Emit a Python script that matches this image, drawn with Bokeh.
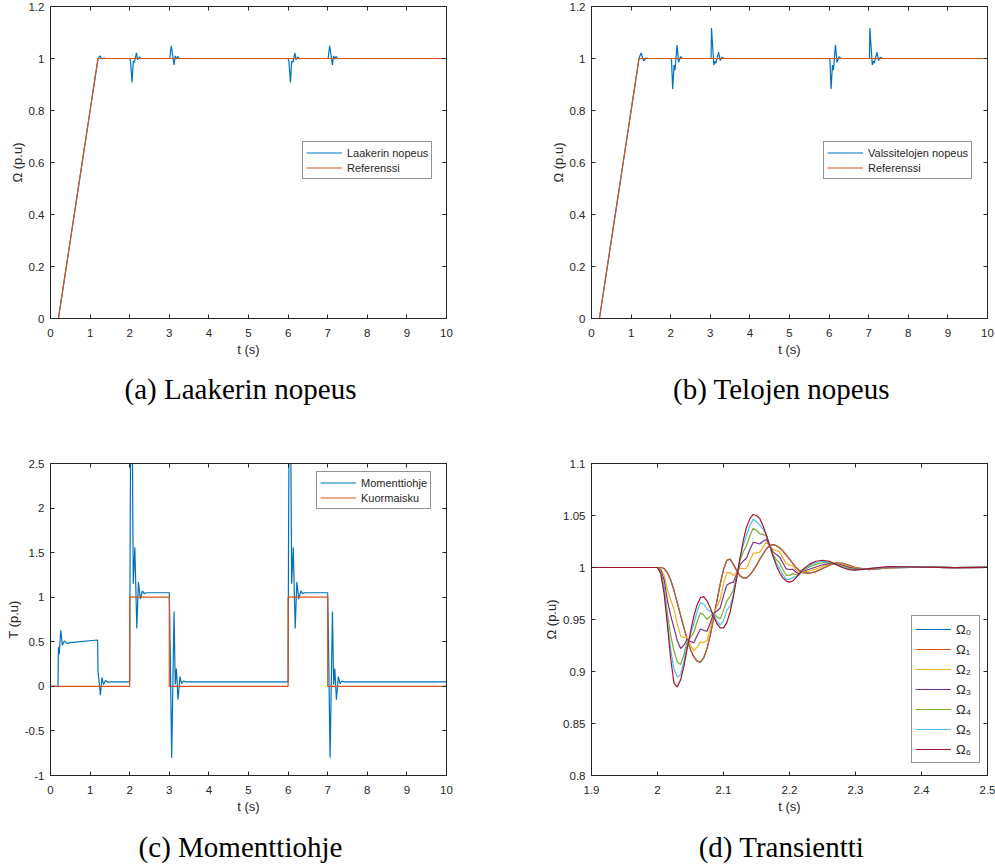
from bokeh.plotting import figure
from bokeh.models import LinearAxis, FixedTicker, Legend, LegendItem, Label, Range1d
from bokeh.layouts import column, row
from bokeh.embed import file_html
from bokeh.resources import INLINE

# ---------------- data ----------------
# (a) bearing speed
REF_T = [0, 0.2, 1.2, 10]
REF_W = [0, 0, 1.0, 1.0]

A_T = [0, 0.2, 1.2, 1.25, 1.3, 1.35, 1.4,
       2.0, 2.02, 2.06, 2.09, 2.12, 2.17, 2.2, 2.24, 2.28, 2.33,
       3.0, 3.01, 3.05, 3.12, 3.15, 3.18, 3.21, 3.25, 3.3,
       6.0, 6.02, 6.06, 6.09, 6.12, 6.17, 6.2, 6.24, 6.28, 6.33,
       7.0, 7.01, 7.05, 7.12, 7.15, 7.18, 7.21, 7.25, 7.3, 10]
A_W = [0, 0, 1.0, 1.01, 0.998, 1.002, 1.0,
       1.0, 0.99, 0.908, 0.99, 0.985, 1.022, 0.995, 1.006, 0.999, 1.0,
       1.0, 1.0, 1.049, 0.975, 1.01, 0.998, 1.008, 0.999, 1.0,
       1.0, 0.99, 0.908, 0.99, 0.985, 1.022, 0.995, 1.006, 0.999, 1.0,
       1.0, 1.0, 1.049, 0.975, 1.01, 0.998, 1.008, 0.999, 1.0, 1.0]

# (b) roll speed
B_T = [0, 0.2, 1.2, 1.25, 1.32, 1.38, 1.45,
       2.0, 2.02, 2.05, 2.085, 2.11, 2.16, 2.2, 2.25, 2.3,
       3.0, 3.02, 3.03, 3.09, 3.12, 3.14, 3.21, 3.25, 3.29, 3.35,
       6.0, 6.02, 6.05, 6.085, 6.11, 6.16, 6.2, 6.25, 6.3,
       7.0, 7.02, 7.03, 7.09, 7.12, 7.14, 7.21, 7.25, 7.29, 7.35, 10]
B_W = [0, 0, 1.0, 1.021, 0.99, 1.002, 1.0,
       1.0, 0.995, 0.883, 0.975, 0.955, 1.052, 0.985, 1.007, 1.0,
       1.0, 1.0, 1.117, 0.975, 0.99, 0.982, 1.024, 0.992, 1.005, 1.0,
       1.0, 0.995, 0.883, 0.975, 0.955, 1.052, 0.985, 1.007, 1.0,
       1.0, 1.0, 1.117, 0.975, 0.99, 0.982, 1.024, 0.992, 1.005, 1.0, 1.0]

# (c) torque command and load step
C_T = [0, 0.19, 0.2, 0.22, 0.26, 0.30, 0.35, 0.42, 0.5, 1.19, 1.2, 1.22, 1.26, 1.30, 1.34, 1.39, 1.45, 1.5,
       2.0, 2.01, 2.025, 2.065, 2.09, 2.13, 2.18, 2.22, 2.27, 2.32, 2.37, 2.42,
       3.0, 3.02, 3.06, 3.12, 3.15, 3.18, 3.22, 3.27, 3.31, 3.36, 3.42,
       6.0, 6.01, 6.025, 6.065, 6.09, 6.13, 6.18, 6.22, 6.27, 6.32, 6.37, 6.42,
       7.0, 7.02, 7.06, 7.12, 7.15, 7.18, 7.22, 7.27, 7.31, 7.36, 7.42, 10]
C_W = [0, 0, 0.44, 0.36, 0.63, 0.46, 0.51, 0.48, 0.49, 0.52, 0.16, 0.09, -0.10, 0.10, 0.02, 0.065, 0.045, 0.05,
       0.05, 1.5, 2.9, 2.9, 1.15, 1.56, 0.65, 1.17, 0.98, 1.07, 1.04, 1.05,
       1.05, 0.5, -0.80, 0.84, 0.02, 0.20, -0.15, 0.11, 0.03, 0.06, 0.05,
       0.05, 1.5, 2.9, 2.9, 1.15, 1.56, 0.65, 1.17, 0.98, 1.07, 1.04, 1.05,
       1.05, 0.5, -0.80, 0.84, 0.02, 0.20, -0.15, 0.11, 0.03, 0.06, 0.05, 0.05]
K_T = [0, 2, 2, 3, 3, 6, 6, 7, 7, 10, 10]
K_W = [0, 0, 1, 1, 0, 0, 1, 1, 0, 0, 1]

# (d) transient, Omega_0 ... Omega_6
D_T = [1.9,
       2.000, 2.005, 2.010, 2.015, 2.020, 2.025, 2.030, 2.035, 2.040, 2.045,
       2.050, 2.055, 2.060, 2.065, 2.070, 2.075, 2.080, 2.085, 2.090, 2.095,
       2.100, 2.105, 2.110, 2.115, 2.120, 2.125, 2.130, 2.135, 2.140, 2.145,
       2.150, 2.155, 2.160, 2.165, 2.170, 2.175, 2.180, 2.185, 2.190, 2.195,
       2.200, 2.205, 2.210, 2.215, 2.220,
       2.23, 2.24, 2.25, 2.26, 2.27, 2.28, 2.29, 2.30, 2.32, 2.35, 2.40, 2.45, 2.4999]
W0 = [1.0,
      1.000, 1.000, 0.999, 0.995, 0.988, 0.978, 0.966, 0.954, 0.942, 0.931,
      0.921, 0.914, 0.910, 0.909, 0.913, 0.922, 0.935, 0.951, 0.968, 0.984,
      0.998, 1.007, 1.008, 1.003, 0.997, 0.992, 0.990, 0.990, 0.993, 0.997,
      1.002, 1.008, 1.013, 1.018, 1.021, 1.022, 1.021, 1.019, 1.016, 1.012,
      1.008, 1.004, 1.000, 0.997, 0.995,
      0.9945, 0.996, 0.999, 1.002, 1.0045, 1.004, 1.002, 1.000, 0.998, 0.9995, 1.0003, 0.9998, 1.0002]
W1 = [1.0,
      1.000, 1.000, 0.999, 0.995, 0.988, 0.978, 0.966, 0.954, 0.942, 0.931,
      0.921, 0.914, 0.910, 0.909, 0.913, 0.922, 0.935, 0.951, 0.968, 0.984,
      0.998, 1.007, 1.008, 1.003, 0.997, 0.992, 0.990, 0.990, 0.993, 0.997,
      1.002, 1.008, 1.013, 1.018, 1.021, 1.022, 1.021, 1.019, 1.016, 1.012,
      1.008, 1.004, 1.000, 0.997, 0.995,
      0.9945, 0.996, 0.999, 1.002, 1.0045, 1.004, 1.002, 1.000, 0.998, 0.9995, 1.0003, 0.9998, 1.0002]
W2 = [1.0,
      1.000, 0.9985, 0.993, 0.9785, 0.969, 0.9597, 0.9457, 0.9345, 0.9327, 0.9327,
      0.9253, 0.9198, 0.9235, 0.9285, 0.9278, 0.9295, 0.9415, 0.9555, 0.9625, 0.9695,
      0.984, 0.995, 0.9952, 0.9922, 0.9952, 0.9993, 0.999, 0.9993, 1.0065, 1.0135,
      1.014, 1.0148, 1.0198, 1.0243, 1.021, 1.0172, 1.0162, 1.015, 1.0095, 1.0037,
      1.0025, 1.0017, 0.9975, 0.9942, 0.9958,
      0.9966, 0.9985, 1.001, 1.003, 1.0041, 1.003, 1.001, 0.9994, 0.9983, 0.9998, 1.0003, 0.9998, 1.0002]
W3 = [1.0,
      1.000, 0.9973, 0.9882, 0.9685, 0.9538, 0.9419, 0.9295, 0.9221, 0.9253, 0.931,
      0.9287, 0.9276, 0.9343, 0.9409, 0.9396, 0.9387, 0.9467, 0.9559, 0.9581, 0.9611,
      0.9728, 0.983, 0.985, 0.986, 0.9938, 1.0027, 1.0062, 1.0091, 1.0173, 1.0243,
      1.0236, 1.0226, 1.0252, 1.0269, 1.021, 1.015, 1.0124, 1.0102, 1.0043, 0.9987,
      0.9981, 0.9983, 0.9955, 0.9936, 0.9964,
      0.9983, 1.0005, 1.0026, 1.0038, 1.0038, 1.0022, 1.0002, 0.9989, 0.9985, 1.0001, 1.0003, 0.9998, 1.0002]
W4 = [1.0,
      1.000, 0.9958, 0.9822, 0.956, 0.9348, 0.9197, 0.9093, 0.9066, 0.9161, 0.9287,
      0.9329, 0.9373, 0.9478, 0.9564, 0.9543, 0.9502, 0.9532, 0.9564, 0.9526, 0.9506,
      0.9588, 0.968, 0.9723, 0.9783, 0.9921, 1.0069, 1.0152, 1.0213, 1.0308, 1.0378,
      1.0356, 1.0323, 1.0319, 1.0301, 1.021, 1.0123, 1.0077, 1.0042, 0.9978, 0.9925,
      0.9926, 0.9941, 0.993, 0.9929, 0.9971,
      1.0005, 1.003, 1.0046, 1.0048, 1.0035, 1.0012, 0.9992, 0.9983, 0.9987, 1.0004, 1.0003, 0.9998, 1.0002]
W5 = [1.0,
      1.000, 0.9947, 0.9779, 0.9486, 0.9211, 0.9021, 0.8947, 0.897, 0.9094, 0.9255,
      0.936, 0.9459, 0.9575, 0.966, 0.9649, 0.9601, 0.9579, 0.9552, 0.9486, 0.9446,
      0.9487, 0.959, 0.9631, 0.9739, 0.9908, 1.0088, 1.0217, 1.0313, 1.0405, 1.0463,
      1.0442, 1.0405, 1.0368, 1.0312, 1.021, 1.0111, 1.0043, 0.9991, 0.9931, 0.9888,
      0.9886, 0.9902, 0.9912, 0.9932, 0.9976,
      1.0020, 1.0048, 1.006, 1.0055, 1.0032, 1.0005, 0.9985, 0.9978, 0.9989, 1.0006, 1.0003, 0.9998, 1.0002]
W6 = [1.0,
      1.000, 0.994, 0.975, 0.945, 0.912, 0.889, 0.885, 0.892, 0.905, 0.922,
      0.938, 0.953, 0.964, 0.971, 0.972, 0.968, 0.961, 0.953, 0.946, 0.942,
      0.942, 0.947, 0.957, 0.972, 0.990, 1.009, 1.026, 1.039, 1.047, 1.051,
      1.050, 1.047, 1.040, 1.031, 1.021, 1.011, 1.002, 0.995, 0.990, 0.987,
      0.986, 0.987, 0.990, 0.994, 0.998,
      1.003, 1.006, 1.007, 1.006, 1.003, 1.000, 0.998, 0.9975, 0.999, 1.0008, 1.0003, 0.9998, 1.0002]
D_SERIES = [W0, W1, W2, W3, W4, W5, W6]
D_NAMES = ["Ω₀", "Ω₁", "Ω₂", "Ω₃", "Ω₄", "Ω₅", "Ω₆"]

CAPTIONS = ["(a) Laakerin nopeus", "(b) Telojen nopeus", "(c) Momenttiohje", "(d) Transientti"]

# ticks
T10_TICKS = [0, 1, 2, 3, 4, 5, 6, 7, 8, 9, 10]
T10_LABELS = ["0", "1", "2", "3", "4", "5", "6", "7", "8", "9", "10"]
W_TICKS = [0, 0.2, 0.4, 0.6, 0.8, 1.0, 1.2]
W_LABELS = ["0", "0.2", "0.4", "0.6", "0.8", "1", "1.2"]
TQ_TICKS = [-1, -0.5, 0, 0.5, 1, 1.5, 2, 2.5]
TQ_LABELS = ["-1", "-0.5", "0", "0.5", "1", "1.5", "2", "2.5"]
TD_TICKS = [1.9, 2.0, 2.1, 2.2, 2.3, 2.4, 2.5]
TD_LABELS = ["1.9", "2", "2.1", "2.2", "2.3", "2.4", "2.5"]
WD_TICKS = [0.8, 0.85, 0.9, 0.95, 1.0, 1.05, 1.1]
WD_LABELS = ["0.8", "0.85", "0.9", "0.95", "1", "1.05", "1.1"]

# ---------------- style ----------------
AX = "#262626"
SANS = "Liberation Sans"
SERIF = "Liberation Serif"
COLORS = ["#0072BD", "#D95319", "#EDB120", "#7E2F8E", "#77AC30", "#4DBEEE", "#A2142F"]
LW = 1.2


def style_axis(ax, ticks, labels, show_labels=True, dim="x"):
    ax.ticker = FixedTicker(ticks=ticks)
    ax.axis_line_color = AX
    ax.major_tick_line_color = AX
    ax.major_tick_in = 4
    ax.major_tick_out = 0
    ax.minor_tick_line_color = None
    ax.major_label_text_font = SANS
    ax.major_label_text_color = AX
    ax.axis_label_text_font = SANS
    ax.axis_label_text_color = AX
    ax.axis_label_text_font_style = "normal"
    ax.axis_label_text_font_size = "13px"
    if show_labels:
        ax.major_label_overrides = dict(zip(ticks, labels))
        ax.major_label_text_font_size = "11.5px"
        if dim == "x":
            ax.major_label_standoff = 10
            ax.axis_label_standoff = 2
        else:
            ax.major_label_standoff = 6
            ax.axis_label_standoff = 1
    else:
        ax.major_label_overrides = {t: "" for t in ticks}
        ax.major_label_text_font_size = "1px"
        ax.major_label_standoff = 0


def make_fig(width, height, top, bottom, right, xr, yr, xt, xl, yt, yl, xlabel, ylabel):
    p = figure(width=width, height=height, x_range=Range1d(*xr), y_range=Range1d(*yr),
               output_backend="svg", toolbar_location=None,
               min_border_left=50, min_border_right=right,
               min_border_top=top, min_border_bottom=bottom)
    p.grid.visible = False
    p.outline_line_color = AX
    p.outline_line_width = 1
    p.background_fill_color = "white"
    p.border_fill_color = "white"
    style_axis(p.xaxis[0], xt, xl, dim="x")
    style_axis(p.yaxis[0], yt, yl, dim="y")
    p.xaxis[0].axis_label = xlabel
    p.yaxis[0].axis_label = ylabel
    top_ax = LinearAxis()
    style_axis(top_ax, xt, xl, show_labels=False)
    p.add_layout(top_ax, "above")
    right_ax = LinearAxis()
    style_axis(right_ax, yt, yl, show_labels=False)
    p.add_layout(right_ax, "right")
    return p


def add_legend(p, items, loc, glyph_h, font_size):
    leg = Legend(items=[LegendItem(label=l, renderers=[r]) for l, r in items], location=loc)
    leg.border_line_color = AX
    leg.border_line_width = 1
    leg.background_fill_color = "white"
    leg.background_fill_alpha = 1
    leg.padding = 3
    leg.spacing = 0
    leg.margin = 0
    leg.glyph_width = 36
    leg.glyph_height = glyph_h
    leg.label_height = glyph_h
    leg.label_standoff = 5
    leg.label_text_font = SANS
    leg.label_text_font_size = font_size
    leg.label_text_color = AX
    p.add_layout(leg)


def caption_fig(width, height, text, cx, cy):
    c = figure(width=width, height=height, x_range=Range1d(0, width), y_range=Range1d(height, 0),
               output_backend="svg", toolbar_location=None, x_axis_type=None, y_axis_type=None,
               min_border=0)
    c.grid.visible = False
    c.outline_line_color = None
    c.background_fill_color = "white"
    c.border_fill_color = "white"
    c.add_layout(Label(x=cx, y=cy, text=text, text_align="center", text_baseline="middle",
                       text_font=SERIF, text_font_size="29px", text_color="black"))
    return c


# (a)
pa = make_fig(541, 370, 6, 52, 95, (0, 10), (0, 1.2), T10_TICKS, T10_LABELS, W_TICKS, W_LABELS,
              "t (s)", "Ω (p.u)")
ra1 = pa.line(A_T, A_W, color=COLORS[0], line_width=LW)
ra2 = pa.line(REF_T, REF_W, color=COLORS[1], line_width=LW)
add_legend(pa, [("Laakerin nopeus", ra1), ("Referenssi", ra2)], (252, 139), 15, "11px")

# (b)
pb = make_fig(454, 370, 6, 52, 8, (0, 10), (0, 1.2), T10_TICKS, T10_LABELS, W_TICKS, W_LABELS,
              "t (s)", "Ω (p.u)")
rb1 = pb.line(B_T, B_W, color=COLORS[0], line_width=LW)
rb2 = pb.line(REF_T, REF_W, color=COLORS[1], line_width=LW)
add_legend(pb, [("Valssitelojen nopeus", rb1), ("Referenssi", rb2)], (232, 139), 15, "11px")

# (c)
pc = make_fig(541, 395, 33, 50, 95, (0, 10), (-1, 2.5), T10_TICKS, T10_LABELS, TQ_TICKS, TQ_LABELS,
              "t (s)", "T (p.u)")
rc1 = pc.line(C_T, C_W, color=COLORS[0], line_width=LW)
rc2 = pc.line(K_T, K_W, color=COLORS[1], line_width=LW)
add_legend(pc, [("Momenttiohje", rc1), ("Kuormaisku", rc2)], (266, 266), 15, "11px")

# (d)
pd = make_fig(454, 395, 33, 50, 8, (1.9, 2.5), (0.8, 1.1), TD_TICKS, TD_LABELS, WD_TICKS, WD_LABELS,
              "t (s)", "Ω (p.u)")
rds = []
for name, ser, col in zip(D_NAMES, D_SERIES, COLORS):
    rds.append((name, pd.line(D_T, ser, color=col, line_width=LW)))
add_legend(pd, rds, (320, 12), 20, "13px")

ca = caption_fig(541, 60, CAPTIONS[0], 240, 18)
cb = caption_fig(454, 60, CAPTIONS[1], 240, 18)
cc = caption_fig(541, 40, CAPTIONS[2], 240, 21)
cd = caption_fig(454, 40, CAPTIONS[3], 240, 21)

layout = column(row(pa, pb), row(ca, cb), row(pc, pd), row(cc, cd))
open("out.html", "w").write(file_html(layout, INLINE))
